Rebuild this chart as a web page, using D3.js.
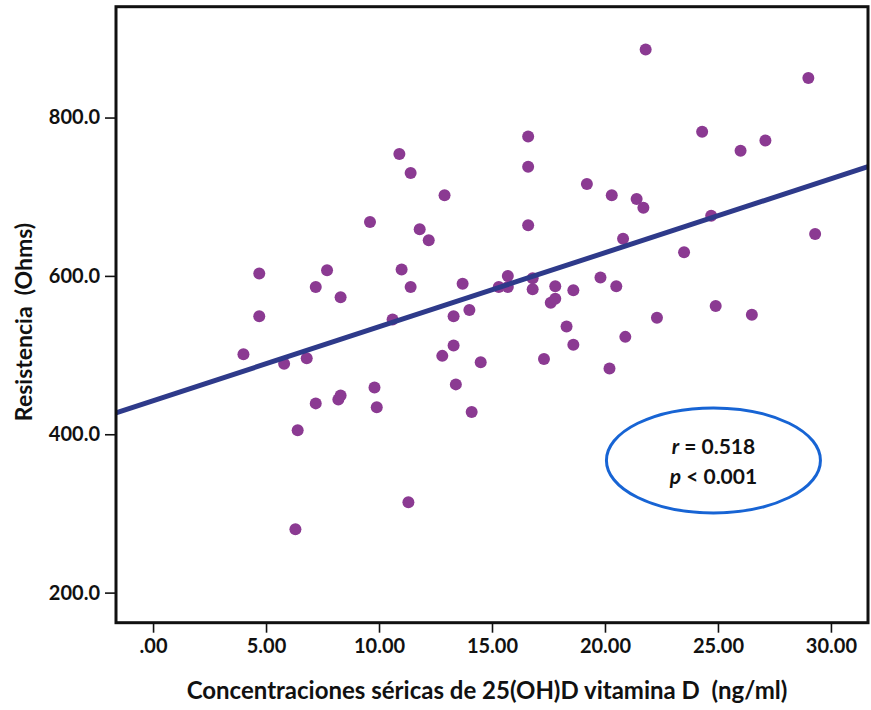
<!DOCTYPE html>
<html lang="es">
<head>
<meta charset="UTF-8">
<title>Resistencia vs 25(OH)D</title>
<script src="https://d3js.org/d3.v7.min.js"></script>
<style>
  body { margin: 0; background: #fff; }
  text { font-family: Lato, "Open Sans", sans-serif; font-weight: bold; fill: #111; white-space: pre; }
</style>
</head>
<body>
<svg id="chart" width="871" height="710"></svg>
<script>
// serum 25(OH)D (ng/ml)
const vitD = [4.0, 4.7, 4.7, 5.8, 6.4, 6.3, 6.8, 7.2, 7.2, 7.7, 8.2, 8.3, 8.3, 9.6, 9.8, 9.9, 10.6,
  10.9, 11.0, 11.3, 11.4, 11.4, 11.8, 12.2, 12.8, 12.9, 13.3, 13.3, 13.4, 13.7, 14.0, 14.1, 14.5,
  15.3, 15.7, 15.7, 16.6, 16.6, 16.6, 16.8, 16.8, 17.3, 17.6, 17.8, 17.8, 18.3, 18.6, 18.6, 19.2,
  19.8, 20.2, 20.3, 20.5, 20.8, 20.9, 21.4, 21.7, 21.8, 22.3, 23.5, 24.3, 24.7, 24.9, 26.0, 26.5,
  27.1, 29.0, 29.3];
// resistance (Ohms)
const resist = [501, 603, 549, 489, 405, 280, 496, 439, 586, 607, 444, 449, 573, 668, 459, 434, 545,
  754, 608, 314, 730, 586, 659, 645, 499, 702, 549, 512, 463, 590, 557, 428, 491,
  586, 600, 586, 776, 738, 664, 597, 583, 495, 566, 587, 571, 536, 582, 513, 716,
  598, 483, 702, 587, 647, 523, 697, 686, 886, 547, 630, 782, 676, 562, 758, 551,
  771, 850, 653];

// fitted line
const fitIntercept = 442.3;
const fitSlope = 9.35;

const xTicks = [0, 5, 10, 15, 20, 25, 30];
const xTickLabels = [".00", "5.00", "10.00", "15.00", "20.00", "25.00", "30.00"];
const yTicks = [200, 400, 600, 800];
const yTickLabels = ["200.0", "400.0", "600.0", "800.0"];

const statLines = ["r = 0.518", "p < 0.001"];

const svg = d3.select("#chart");
const box = { left: 116, top: 6.7, right: 868, bottom: 622.7 };

const x = d3.scaleLinear().domain([-1.64, 31.64]).range([box.left, box.right]);
const y = d3.scaleLinear().domain([162, 940]).range([box.bottom, box.top]);

svg.append("defs").append("clipPath").attr("id", "plot-clip")
  .append("rect")
  .attr("x", box.left).attr("y", box.top)
  .attr("width", box.right - box.left).attr("height", box.bottom - box.top);

// axes
const xAxis = d3.axisBottom(x).tickValues(xTicks)
  .tickFormat((d, i) => xTickLabels[i]).tickSizeOuter(0).tickSizeInner(10).tickPadding(6);
const yAxis = d3.axisLeft(y).tickValues(yTicks)
  .tickFormat((d, i) => yTickLabels[i]).tickSizeOuter(0).tickSizeInner(11).tickPadding(5);

const gx = svg.append("g").attr("transform", `translate(0,${box.bottom})`).call(xAxis);
const gy = svg.append("g").attr("transform", `translate(${box.left},0)`).call(yAxis);
[gx, gy].forEach(g => {
  g.select(".domain").remove();
  g.selectAll(".tick line").attr("stroke", "#111").attr("stroke-width", 1.6);
  g.selectAll(".tick text").attr("font-size", 20).attr("font-family", "Lato, sans-serif")
    .attr("font-weight", "bold").attr("fill", "#111");
});

// points
svg.append("g").attr("clip-path", "url(#plot-clip)")
  .selectAll("circle")
  .data(vitD.map((v, i) => ({ v, r: resist[i] })))
  .join("circle")
  .attr("cx", d => x(d.v))
  .attr("cy", d => y(d.r))
  .attr("r", 6)
  .attr("fill", "#8b3a92");

// regression line
const xd = x.domain();
svg.append("line")
  .attr("clip-path", "url(#plot-clip)")
  .attr("x1", x(xd[0])).attr("y1", y(fitIntercept + fitSlope * xd[0]))
  .attr("x2", x(xd[1])).attr("y2", y(fitIntercept + fitSlope * xd[1]))
  .attr("stroke", "#2e3a8a")
  .attr("stroke-width", 5);

// frame
svg.append("rect")
  .attr("x", box.left).attr("y", box.top)
  .attr("width", box.right - box.left).attr("height", box.bottom - box.top)
  .attr("fill", "none").attr("stroke", "#111").attr("stroke-width", 3);

// annotation
const ell = svg.append("g").attr("transform", `translate(${x(24.8)},${y(367)})`);
ell.append("ellipse").attr("rx", 107).attr("ry", 52.5)
  .attr("fill", "none").attr("stroke", "#1764d4").attr("stroke-width", 3);
statLines.forEach((s, i) => {
  const [sym, ...rest] = s.split(" ");
  const t = ell.append("text").attr("text-anchor", "middle")
    .attr("y", -6 + i * 30).attr("font-size", 21);
  t.append("tspan").attr("font-style", "italic").text(sym);
  t.append("tspan").text(" " + rest.join(" "));
});

// axis titles
svg.append("text")
  .attr("x", 487).attr("y", 699)
  .attr("text-anchor", "middle").attr("font-size", 24)
  .text("Concentraciones séricas de 25(OH)D vitamina D  (ng/ml)");

svg.append("text")
  .attr("transform", "translate(32,322) rotate(-90)")
  .attr("text-anchor", "middle").attr("font-size", 23)
  .text("Resistencia  (Ohms)");
</script>
</body>
</html>
